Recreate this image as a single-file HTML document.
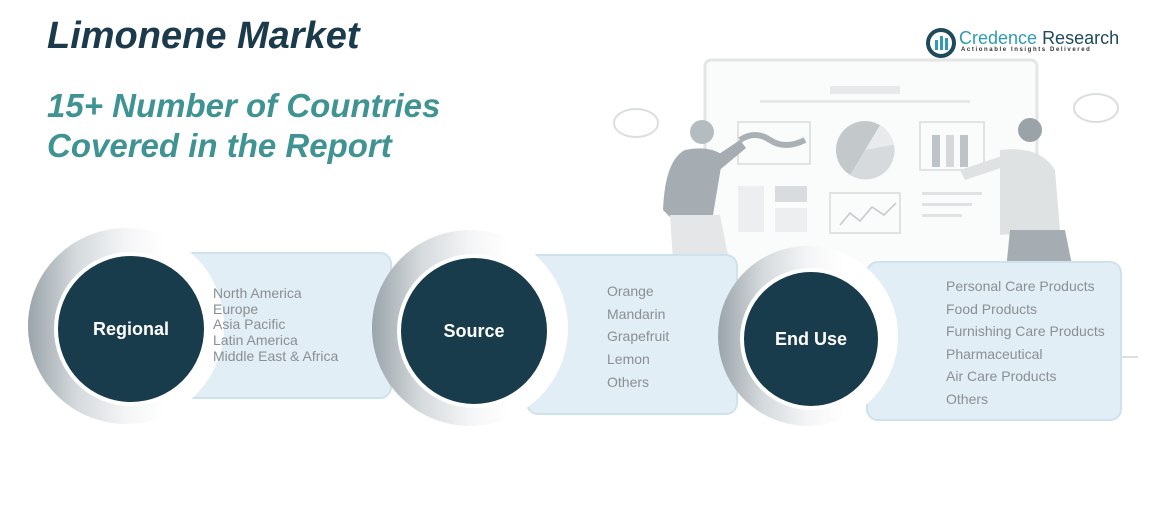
<!DOCTYPE html>
<html><head><meta charset="utf-8"><style>
body{margin:0;width:1167px;height:511px;background:#fff;position:relative;overflow:hidden;font-family:"Liberation Sans",sans-serif}
.a{position:absolute}
.box{position:absolute;background:#e2eef5;border:2px solid #cfe1ec;border-radius:12px}
.halo{position:absolute;border-radius:50%;background:linear-gradient(90deg,#9aa4aa 0%,#d5dadd 25%,#f4f5f6 50%,#fff 70%)}
.c{position:absolute;border-radius:50%;background:#183c4b;border:4px solid #fff;color:#fff;font-weight:bold;font-size:18px;display:flex;align-items:center;justify-content:center}
.t{position:absolute;color:#8a8f93;font-size:14px}
</style></head><body>
<svg class="a" style="left:0;top:0" width="1167" height="511">
 <rect x="705" y="60" width="332" height="250" rx="6" fill="#fafbfb" stroke="#e3e5e6" stroke-width="3"/>
 <rect x="830" y="86" width="70" height="8" fill="#e6e8e9"/>
 <rect x="760" y="100" width="210" height="3" fill="#e6e8e9"/>
 <rect x="738" y="122" width="72" height="42" fill="none" stroke="#e0e2e3" stroke-width="2"/>
 <path d="M740 140 q15 -10 30 0 t35 0" stroke="#aab0b4" stroke-width="6" fill="none"/>
 <circle cx="865" cy="150" r="29" fill="#c3c8cb"/><path d="M865 150 L880 125 A29 29 0 0 1 894 145 Z" fill="#e8eaeb"/><path d="M865 150 L894 145 A29 29 0 0 1 850 175 Z" fill="#d6dadc"/>
 <rect x="920" y="122" width="64" height="48" fill="none" stroke="#e0e2e3" stroke-width="2"/>
 <rect x="932" y="135" width="8" height="32" fill="#bdc3c6"/><rect x="946" y="135" width="8" height="32" fill="#d4d8da"/><rect x="960" y="135" width="8" height="32" fill="#bdc3c6"/>
 <rect x="738" y="186" width="26" height="46" fill="#eceeef"/><rect x="775" y="186" width="32" height="16" fill="#d8dcde"/><rect x="775" y="208" width="32" height="24" fill="#eceeef"/>
 <rect x="830" y="193" width="70" height="40" fill="none" stroke="#e0e2e3" stroke-width="2"/>
 <path d="M840 225 l10 -12 l10 8 l12 -14 l12 8 l12 -12" stroke="#c3c8cb" fill="none" stroke-width="1.5"/>
 <rect x="922" y="192" width="60" height="3" fill="#e0e2e3"/><rect x="922" y="203" width="50" height="3" fill="#e0e2e3"/><rect x="922" y="214" width="40" height="3" fill="#e0e2e3"/>
 <ellipse cx="636" cy="123" rx="22" ry="14" fill="none" stroke="#dcdfe0" stroke-width="2"/>
 <ellipse cx="1096" cy="108" rx="22" ry="14" fill="none" stroke="#dcdfe0" stroke-width="2"/>
 <path d="M685 150 q-20 10 -22 60 l10 10 l40 -5 l10 -60 q-15 -10 -38 -5z" fill="#a5adb2"/>
 <circle cx="702" cy="132" r="12" fill="#b5bcc0"/>
 <path d="M670 215 l50 0 l12 60 l-58 0z" fill="#e4e6e7"/>
 <path d="M710 160 l30 -20 l6 8 l-30 25z" fill="#a5adb2"/>
 <path d="M1000 150 q40 -5 55 20 l5 60 l-60 5z" fill="#dfe2e3"/>
 <circle cx="1030" cy="130" r="12" fill="#9aa3a8"/>
 <path d="M1010 230 l55 0 l10 50 l-70 0z" fill="#a5adb2"/>
 <path d="M960 170 l45 -15 l5 10 l-45 15z" fill="#dfe2e3"/>
 <line x1="880" y1="357" x2="1138" y2="357" stroke="#dcdfe0" stroke-width="2"/>
</svg>
<div class="a" style="left:47px;top:15px;font-size:38px;font-weight:bold;font-style:italic;color:#1b3a4b">Limonene Market</div>
<div class="a" style="left:47px;top:86px;font-size:33px;font-weight:bold;font-style:italic;color:#3f9393;line-height:40px">15+ Number of Countries<br>Covered in the Report</div>
<svg class="a" style="left:926px;top:28px" width="30" height="30"><circle cx="15" cy="15" r="13" fill="none" stroke="#1e4a5c" stroke-width="4"/><rect x="9" y="12" width="3" height="10" fill="#2f9bb0"/><rect x="14" y="8" width="3" height="14" fill="#2f9bb0"/><rect x="19" y="10" width="3" height="12" fill="#2f9bb0"/></svg>
<div class="a" style="left:959px;top:28px;font-size:18px;color:#2f9bb0">Credence <span style="color:#1e4a5c">Research</span></div>
<div class="a" style="left:961px;top:47px;font-size:6px;letter-spacing:1.6px;color:#333;font-weight:bold">Actionable Insights Delivered</div>

<div class="box" style="left:145px;top:252px;width:243px;height:143px"></div>
<div class="box" style="left:526px;top:254px;width:208px;height:157px"></div>
<div class="box" style="left:866px;top:261px;width:252px;height:156px"></div>

<div class="halo" style="left:28px;top:228px;width:196px;height:196px"></div>
<div class="c" style="left:54px;top:252px;width:146px;height:146px">Regional</div>
<div class="halo" style="left:372px;top:230px;width:196px;height:196px"></div>
<div class="c" style="left:397px;top:254px;width:146px;height:146px">Source</div>
<div class="halo" style="left:718px;top:246px;width:180px;height:180px"></div>
<div class="c" style="left:740px;top:268px;width:134px;height:134px">End Use</div>

<div class="t" style="left:213px;top:286px;line-height:15.7px">North America<br>Europe<br>Asia Pacific<br>Latin America<br>Middle East &amp; Africa</div>
<div class="t" style="left:607px;top:280px;line-height:22.7px">Orange<br>Mandarin<br>Grapefruit<br>Lemon<br>Others</div>
<div class="t" style="left:946px;top:275px;line-height:22.6px">Personal Care Products<br>Food Products<br>Furnishing Care Products<br>Pharmaceutical<br>Air Care Products<br>Others</div>
</body></html>
